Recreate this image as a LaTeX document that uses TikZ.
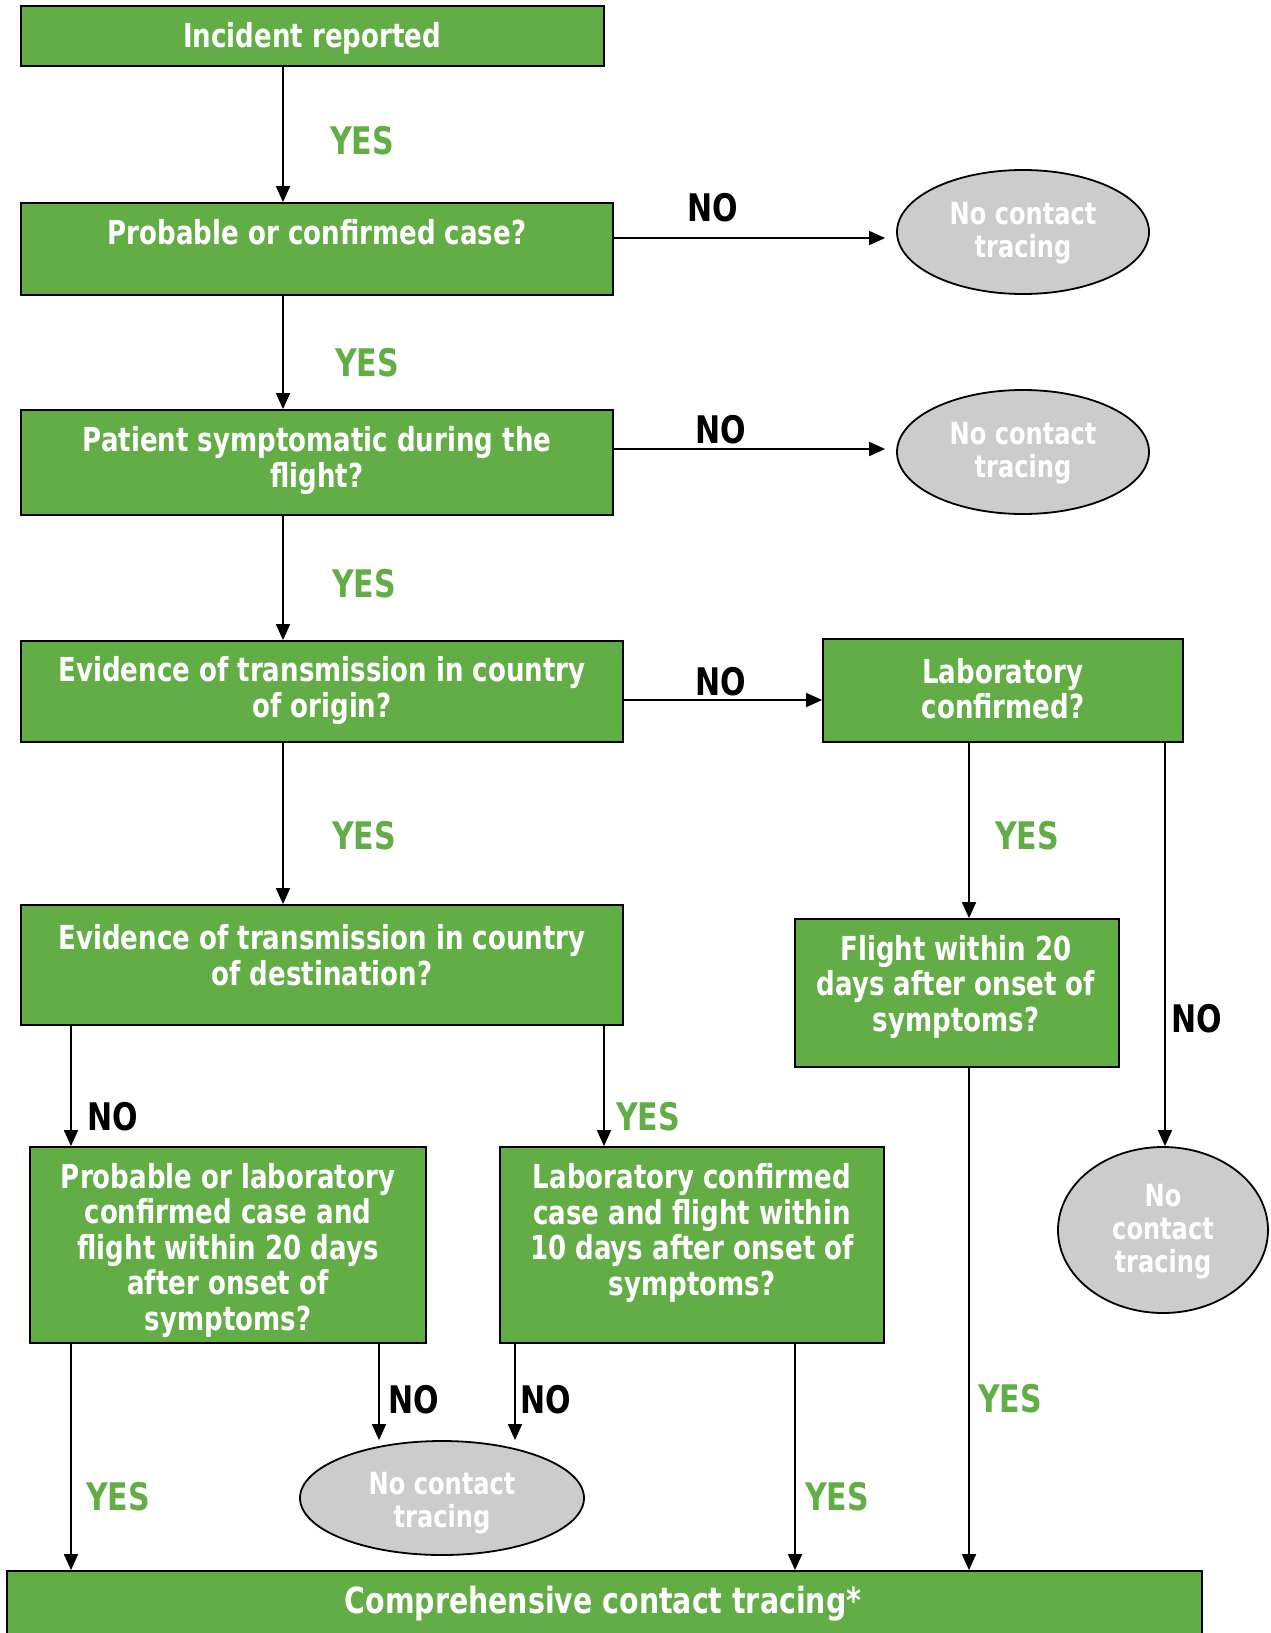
\documentclass[tikz,border=0pt]{standalone}
\usepackage{fontspec}
\setmainfont{DejaVu Sans}[FakeStretch=0.79]
\usetikzlibrary{arrows.meta,shapes.geometric}
\definecolor{boxgreen}{RGB}{98,173,70}
\definecolor{ovalgray}{RGB}{204,204,204}
\begin{document}
\begin{tikzpicture}[x=1pt,y=-1pt,
  box/.style={draw=black, line width=1.8pt, fill=boxgreen, inner sep=0pt},
  txt/.style={text=white, font=\bfseries\fontsize{33}{35.5}\selectfont, align=center, inner sep=0pt},
  oval/.style={ellipse, draw=black, line width=1.8pt, fill=ovalgray, inner sep=0pt},
  ovaltxt/.style={text=white, font=\bfseries\fontsize{30.5}{33}\selectfont, align=center, inner sep=0pt},
  arr/.style={draw=black, line width=1.8pt, -{Triangle[length=16pt,width=14pt]}},
  yeslbl/.style={text=boxgreen, font=\bfseries\fontsize{38}{40}\selectfont, inner sep=0pt},
  nolbl/.style={text=black, font=\bfseries\fontsize{38}{40}\selectfont, inner sep=0pt}]
\useasboundingbox[fill=white] (0,0) rectangle (1271,1633);

% boxes
\node[box, minimum width=583, minimum height=60] (b1) at (312.5,36) {};
\node[box, minimum width=592, minimum height=92] (b2) at (317,249) {};
\node[box, minimum width=592, minimum height=105] (b3) at (317,462.5) {};
\node[box, minimum width=602, minimum height=101] (b4) at (322,691.5) {};
\node[box, minimum width=360, minimum height=103] (b5) at (1003,690.5) {};
\node[box, minimum width=602, minimum height=120] (b6) at (322,965) {};
\node[box, minimum width=324, minimum height=148] (b7) at (957,993) {};
\node[box, minimum width=396, minimum height=196] (b8) at (228,1245) {};
\node[box, minimum width=384, minimum height=196] (b9) at (692,1245) {};
\node[box, minimum width=1195, minimum height=100] (b10) at (604.5,1621) {};

% box texts
\node[txt] (t1) at (312,38) {Incident reported};
\node[txt] (t2) at (317,232) {Probable or confirmed case?};
\node[txt] (t3) at (317,460.5) {Patient symptomatic during the\\flight?};
\node[txt] (t4) at (322,690.5) {Evidence of transmission in country\\of origin?};
\node[txt] (t5) at (1003,688.5) {Laboratory\\confirmed?};
\node[txt] (t6) at (322,955) {Evidence of transmission in country\\of destination?};
\node[txt] (t7) at (956,987) {Flight within 20\\days after onset of\\symptoms?};
\node[txt] (t8) at (228,1250.5) {Probable or laboratory\\confirmed case and\\flight within 20 days\\after onset of\\symptoms?};
\node[txt] (t9) at (692,1233) {Laboratory confirmed\\case and flight within\\10 days after onset of\\symptoms?};
\node[txt, font=\bfseries\fontsize{36}{38}\selectfont] (t10) at (603,1604) {Comprehensive contact tracing*};

% ellipses
\node[oval, minimum width=252, minimum height=124] (e1) at (1023,232) {};
\node[oval, minimum width=252, minimum height=124] (e2) at (1023,452) {};
\node[oval, minimum width=210, minimum height=166] (e3) at (1163,1230) {};
\node[oval, minimum width=284, minimum height=114] (e4) at (442,1498) {};
\node[ovaltxt] (et1) at (1023,233) {No contact\\tracing};
\node[ovaltxt] (et2) at (1023,453) {No contact\\tracing};
\node[ovaltxt] (et3) at (1163,1232) {No\\contact\\tracing};
\node[ovaltxt] (et4) at (442,1503) {No contact\\tracing};

% x / y guide coordinates
\coordinate (xA) at (283,0);
\coordinate (xE) at (969,0);
\coordinate (xF) at (1165,0);
\coordinate (xL) at (71,0);
\coordinate (xR) at (604,0);
\coordinate (xN1) at (379,0);
\coordinate (xN2) at (515,0);
\coordinate (xY2) at (795,0);
\coordinate (y1) at (0,238);
\coordinate (y2) at (0,449);
\coordinate (y3) at (0,700);

% connectors
\draw[arr] (b1.south -| xA) -- (b2.north -| xA);
\draw[arr] (b2.south -| xA) -- (b3.north -| xA);
\draw[arr] (b3.south -| xA) -- (b4.north -| xA);
\draw[arr] (b4.south -| xA) -- (b6.north -| xA);
\draw[arr, shorten >=11pt] (b2.east |- y1) -- (e1.west |- y1);
\draw[arr, shorten >=11pt] (b3.east |- y2) -- (e2.west |- y2);
\draw[arr] (b4.east |- y3) -- (b5.west |- y3);
\draw[arr] (b5.south -| xE) -- (b7.north -| xE);
\draw[arr] (b5.south -| xF) -- (e3.north -| xF);
\draw[arr] (b6.south -| xL) -- (b8.north -| xL);
\draw[arr] (b6.south -| xR) -- (b9.north -| xR);
\draw[arr] (b8.south -| xN1) -- (e4.north -| xN1);
\draw[arr] (b9.south -| xN2) -- (e4.north -| xN2);
\draw[arr] (b8.south -| xL) -- (b10.north -| xL);
\draw[arr] (b9.south -| xY2) -- (b10.north -| xY2);
\draw[arr] (b7.south -| xE) -- (b10.north -| xE);

% labels
\node[yeslbl] (l1) at (362,141) {YES};
\node[nolbl] (l2) at (713,208) {NO};
\node[yeslbl] (l3) at (367,363) {YES};
\node[nolbl] (l4) at (721,430) {NO};
\node[yeslbl] (l5) at (364,584) {YES};
\node[nolbl] (l6) at (721,682) {NO};
\node[yeslbl] (l7) at (364,836) {YES};
\node[yeslbl] (l8) at (1027,836) {YES};
\node[nolbl] (l9) at (1197,1019) {NO};
\node[nolbl] (l10) at (113,1117) {NO};
\node[yeslbl] (l11) at (648,1117) {YES};
\node[nolbl] (l12) at (414,1400) {NO};
\node[nolbl] (l13) at (546,1400) {NO};
\node[yeslbl] (l14) at (118,1497) {YES};
\node[yeslbl] (l15) at (837,1497) {YES};
\node[yeslbl] (l16) at (1010,1399) {YES};
\end{tikzpicture}
\end{document}
